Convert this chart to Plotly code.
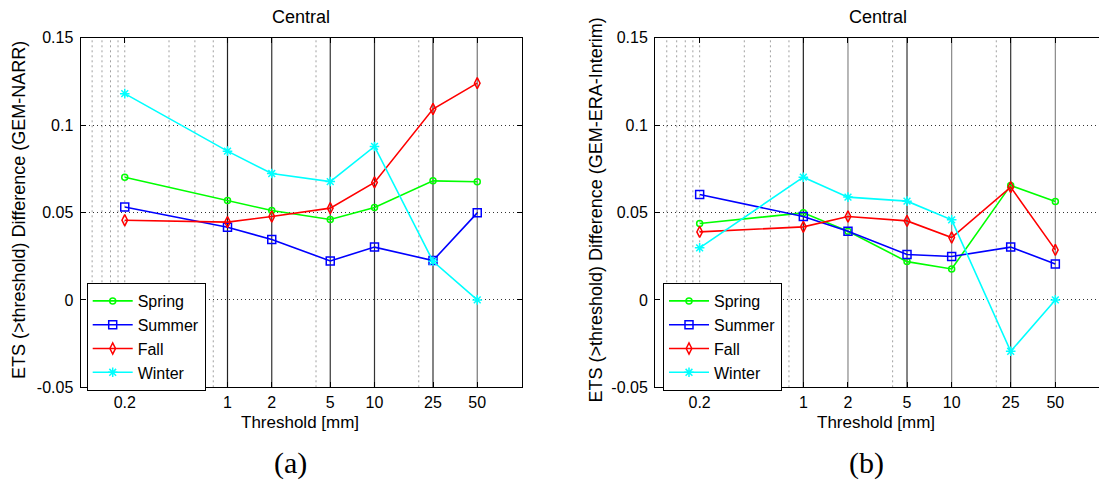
import plotly.graph_objects as go

# Precipitation thresholds (mm) shared by both panels
thresholds = [0.2, 1, 2, 5, 10, 25, 50]
threshold_labels = ["0.2", "1", "2", "5", "10", "25", "50"]

# ETS difference, GEM minus NARR
narr_spring = [0.0702, 0.0569, 0.0511, 0.0460, 0.0529, 0.0681, 0.0676]
narr_summer = [0.0531, 0.0416, 0.0345, 0.0223, 0.0302, 0.0225, 0.0498]
narr_fall = [0.0456, 0.0445, 0.0477, 0.0525, 0.0672, 0.1092, 0.1240]
narr_winter = [0.1180, 0.0851, 0.0723, 0.0677, 0.0878, 0.0221, 0.0000]

# ETS difference, GEM minus ERA-Interim
era_spring = [0.0437, 0.0498, 0.0393, 0.0219, 0.0177, 0.0655, 0.0563]
era_summer = [0.0603, 0.0477, 0.0393, 0.0260, 0.0248, 0.0302, 0.0206]
era_fall = [0.0389, 0.0418, 0.0477, 0.0452, 0.0357, 0.0645, 0.0286]
era_winter = [0.0298, 0.0702, 0.0588, 0.0565, 0.0458, -0.0294, 0.0000]

season_names = ["Spring", "Summer", "Fall", "Winter"]
y_ticks = [-0.05, 0, 0.05, 0.1, 0.15]
y_tick_labels = ["-0.05", "0", "0.05", "0.1", "0.15"]

# grid line positions on the log threshold axis
major_grid = [1, 2, 5, 10, 25, 50]
minor_grid = [0.12, 0.14, 0.16, 0.18, 0.2, 0.4, 0.6, 0.8, 4, 20]

W, H = 1099, 482
styles = {
    "Spring": dict(color="#00ff00", symbol="circle-open", size=6),
    "Summer": dict(color="#0000ff", symbol="square-open", size=8),
    "Fall": dict(color="#ff0000", symbol="diamond-tall-open", size=8),
    "Winter": dict(color="#00ffff", symbol="asterisk-open", size=8),
}

fig = go.Figure()

panels = [
    dict(x="x", y="y", legend="legend",
         series=[narr_spring, narr_summer, narr_fall, narr_winter]),
    dict(x="x2", y="y2", legend="legend2",
         series=[era_spring, era_summer, era_fall, era_winter]),
]

for p in panels:
    for name, vals in zip(season_names, p["series"]):
        st = styles[name]
        fig.add_trace(go.Scatter(
            x=thresholds, y=vals, name=name, mode="lines+markers",
            xaxis=p["x"], yaxis=p["y"], legend=p["legend"],
            line=dict(color=st["color"], width=1.6),
            marker=dict(symbol=st["symbol"], size=st["size"], color=st["color"],
                        line=dict(width=1.5, color=st["color"])),
        ))

# plot area positions in pixels
left_dom = [80.5 / W, 521.5 / W]
right_dom = [655.0 / W, 1.0]
y_dom = [1 - 387.3 / H, 1 - 37.7 / H]

font_main = "Liberation Sans, Arial, sans-serif"

xaxis_common = dict(
    type="log", tickvals=thresholds, ticktext=threshold_labels,
    showgrid=False, zeroline=False, showline=True, linecolor="black", linewidth=1,
    ticks="inside", ticklen=5, tickcolor="black", mirror="allticks",
    tickfont=dict(family=font_main, size=16, color="black"),
    ticklabelstandoff=0, automargin=False,
)
yaxis_common = dict(
    range=[-0.05, 0.15], tickvals=y_ticks, ticktext=y_tick_labels,
    showgrid=True, gridcolor="#333333", griddash="1px,3px", gridwidth=1,
    zeroline=False, showline=True, linecolor="black", linewidth=1,
    ticks="inside", ticklen=5, tickcolor="black",
    tickfont=dict(family=font_main, size=16, color="black"),
    ticklabelstandoff=3, automargin=False,
)

fig.update_layout(
    width=W, height=H,
    margin=dict(l=0, r=0, t=0, b=0, autoexpand=False),
    paper_bgcolor="white", plot_bgcolor="white",
    showlegend=True,
    xaxis=dict(xaxis_common, domain=left_dom, range=[-1, 2], anchor="y"),
    yaxis=dict(yaxis_common, domain=y_dom, anchor="x", mirror="allticks"),
    xaxis2=dict(xaxis_common, domain=right_dom, range=[-1, 1.9933], anchor="y2"),
    yaxis2=dict(yaxis_common, domain=y_dom, anchor="x2", mirror=False),
)

legend_common = dict(
    bgcolor="white", bordercolor="black", borderwidth=1,
    font=dict(family=font_main, size=16, color="black"),
    xanchor="left", yanchor="top", itemwidth=40, tracegroupgap=0,
)
fig.update_layout(
    legend=dict(legend_common, x=86.7 / W, y=1 - 283 / H),
    legend2=dict(legend_common, x=663 / W, y=1 - 283 / H),
)

# vertical grid lines
shapes = []
major_colors = {
    "x": ["#222222", "#333333", "#333333", "#333333", "#333333", "#777777"],
    "x2": ["#222222", "#888888", "#333333", "#888888", "#333333", "#888888"],
}
for xa, ya in [("x", "y"), ("x2", "y2")]:
    for v, c in zip(major_grid, major_colors[xa]):
        shapes.append(dict(type="line", xref=xa, yref=f"{ya} domain",
                           x0=v, x1=v, y0=0, y1=1, layer="below",
                           line=dict(color=c, width=1.2)))
    for v in minor_grid:
        shapes.append(dict(type="line", xref=xa, yref=f"{ya} domain",
                           x0=v, x1=v, y0=0, y1=1, layer="below",
                           line=dict(color="#a0a0a0", width=1, dash="2px,3px")))
fig.update_layout(shapes=shapes)

# titles, axis labels and panel letters
def px_x(v):
    return v / W

def px_y(v):
    return 1 - v / H

ann = []
for cx, letter, ylab, ylx in [
    (301, "(a)", "ETS (>threshold) Difference (GEM-NARR)", 19),
    (877.5, "(b)", "ETS (>threshold) Difference (GEM-ERA-Interim)", 595.5),
]:
    ann.append(dict(text="Central", x=px_x(cx), y=px_y(16.7), xref="paper", yref="paper",
                    showarrow=False, xanchor="center", yanchor="middle",
                    font=dict(family=font_main, size=18, color="black")))
    ann.append(dict(text="Threshold [mm]", x=px_x(cx - 1.5), y=px_y(422.5), xref="paper", yref="paper",
                    showarrow=False, xanchor="center", yanchor="middle",
                    font=dict(family=font_main, size=17, color="black")))
    ann.append(dict(text=ylab, x=px_x(ylx), y=px_y(210), xref="paper", yref="paper",
                    showarrow=False, xanchor="center", yanchor="middle", textangle=-90,
                    font=dict(family=font_main, size=18, color="black")))
    ann.append(dict(text=letter, x=px_x(cx - 11), y=px_y(463), xref="paper", yref="paper",
                    showarrow=False, xanchor="center", yanchor="middle",
                    font=dict(family="Liberation Serif, DejaVu Serif, serif", size=30, color="black")))
fig.update_layout(annotations=ann)

fig.write_html("out.html")
